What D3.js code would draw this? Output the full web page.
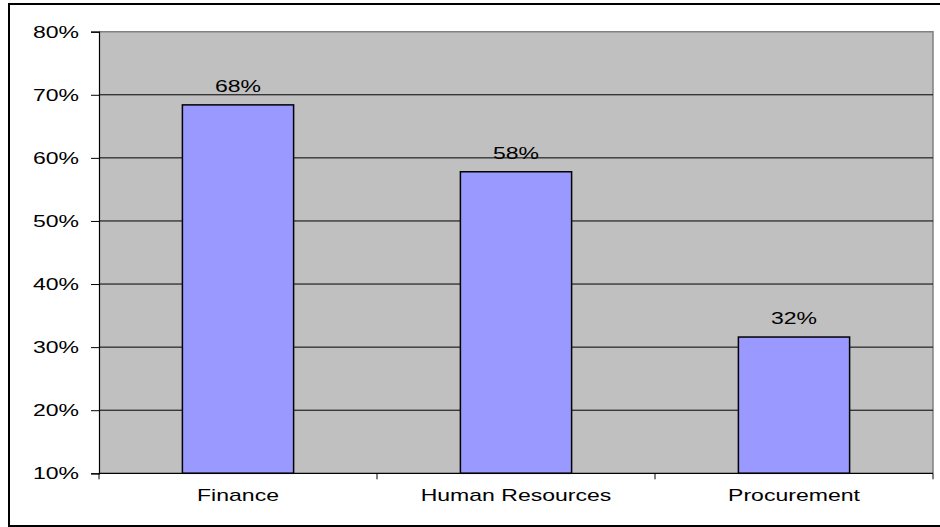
<!DOCTYPE html>
<html>
<head>
<meta charset="utf-8">
<script src="https://cdn.jsdelivr.net/npm/d3@7"></script>
<style>
  body { margin: 0; background: #fff; }
  svg { display: block; font-family: Arial, "Liberation Sans", sans-serif; }
</style>
</head>
<body>
<svg id="chart" width="940" height="527"></svg>
<script>
const categories = ["Finance", "Human Resources", "Procurement"];
const values = [68.4, 57.8, 31.6];
const yTicks = [10, 20, 30, 40, 50, 60, 70, 80];

const width = 940, height = 527;
const plot = { left: 99, right: 933, top: 31.7, bottom: 473.3 };
const stretch = 1.44; // text in the reference is horizontally stretched

const svg = d3.select("#chart");

// outer frame
svg.append("rect")
  .attr("x", 9).attr("y", 4)
  .attr("width", 960).attr("height", 522)
  .attr("fill", "#fff")
  .attr("stroke", "#000")
  .attr("stroke-width", 2);

const x = d3.scaleBand()
  .domain(categories)
  .range([plot.left, plot.right])
  .paddingInner(0.6)
  .paddingOuter(0.3);

const y = d3.scaleLinear()
  .domain([10, 80])
  .range([plot.bottom, plot.top]);

// plot background
svg.append("rect")
  .attr("x", plot.left).attr("y", plot.top)
  .attr("width", plot.right - plot.left)
  .attr("height", plot.bottom - plot.top)
  .attr("fill", "#c0c0c0");

// gray border top/right
svg.append("path")
  .attr("d", `M${plot.left},${plot.top}H${plot.right}V${plot.bottom}`)
  .attr("fill", "none")
  .attr("stroke", "#808080")
  .attr("stroke-width", 1.5);

// gridlines
svg.append("g")
  .selectAll("line")
  .data(yTicks.filter(d => d > 10 && d < 80))
  .join("line")
  .attr("x1", plot.left).attr("x2", plot.right)
  .attr("y1", d => y(d)).attr("y2", d => y(d))
  .attr("stroke", "#000")
  .attr("stroke-width", 1);

// bars
svg.append("g")
  .selectAll("rect")
  .data(values)
  .join("rect")
  .attr("x", (d, i) => x(categories[i]))
  .attr("y", d => y(d))
  .attr("width", x.bandwidth())
  .attr("height", d => plot.bottom - y(d))
  .attr("fill", "#9999ff")
  .attr("stroke", "#000")
  .attr("stroke-width", 1.5);

// value labels
svg.append("g")
  .selectAll("text")
  .data(values)
  .join("text")
  .attr("transform", (d, i) => `translate(${x(categories[i]) + x.bandwidth() / 2},${y(d) - 13}) scale(${stretch},1)`)
  .attr("text-anchor", "middle")
  .attr("font-size", 16)
  .attr("fill", "#000")
  .text(d => Math.round(d) + "%");

// y axis
const yAxis = d3.axisLeft(y).tickValues(yTicks).tickSize(8).tickFormat(d => d + "%");
const gy = svg.append("g")
  .attr("transform", `translate(${plot.left},0)`)
  .call(yAxis);
gy.select(".domain").attr("stroke", "#000").attr("stroke-width", 1.2);
gy.selectAll(".tick line").attr("stroke", "#000");
gy.selectAll(".tick text")
  .attr("x", null).attr("dy", null)
  .attr("transform", `translate(-20,5.6) scale(${stretch},1)`)
  .attr("font-size", 16)
  .attr("font-family", "Arial, 'Liberation Sans', sans-serif")
  .attr("fill", "#000");

// x axis baseline and boundary ticks
svg.append("line")
  .attr("x1", plot.left).attr("x2", plot.right)
  .attr("y1", plot.bottom).attr("y2", plot.bottom)
  .attr("stroke", "#000").attr("stroke-width", 1.2);

const step = x.step();
const boundaries = d3.range(categories.length + 1).map(i => plot.left + i * (plot.right - plot.left) / categories.length);
svg.append("g")
  .selectAll("line")
  .data(boundaries)
  .join("line")
  .attr("x1", d => d).attr("x2", d => d)
  .attr("y1", plot.bottom).attr("y2", plot.bottom + 6)
  .attr("stroke", "#000");

svg.append("g")
  .selectAll("text")
  .data(categories)
  .join("text")
  .attr("transform", d => `translate(${x(d) + x.bandwidth() / 2},${plot.bottom + 27.4}) scale(${stretch},1)`)
  .attr("text-anchor", "middle")
  .attr("font-size", 16)
  .attr("fill", "#000")
  .text(d => d);
</script>
</body>
</html>
